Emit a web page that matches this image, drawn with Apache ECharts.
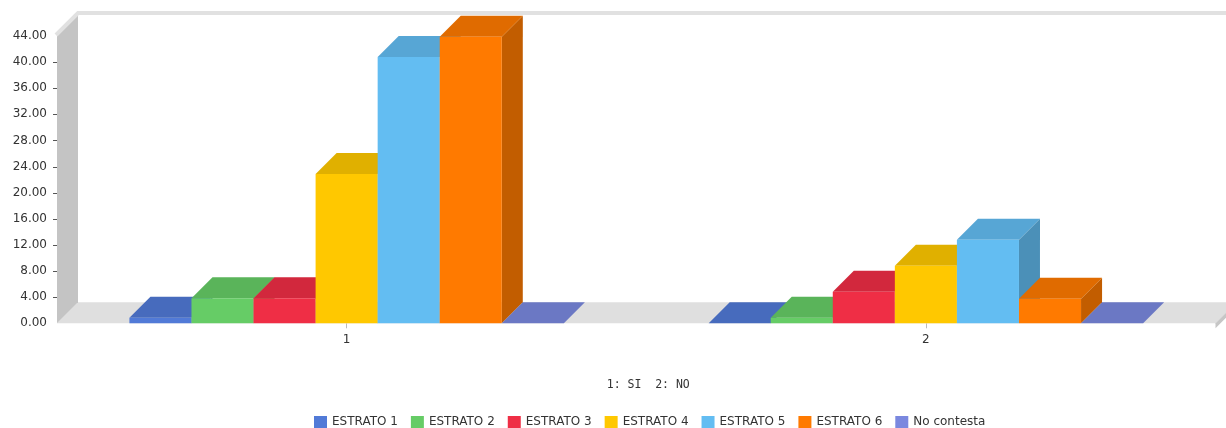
<!DOCTYPE html>
<html>
<head>
<meta charset="utf-8">
<script src="https://cdn.jsdelivr.net/npm/echarts@6.0.0/dist/echarts.min.js"></script>
<style>
html,body{margin:0;padding:0;background:#fff;}
#chart{width:1226px;height:428px;}
</style>
</head>
<body>
<div id="chart"></div>
<script>
// ---- data ----
const categories = ['1', '2'];
const seriesNames = ['ESTRATO 1', 'ESTRATO 2', 'ESTRATO 3', 'ESTRATO 4', 'ESTRATO 5', 'ESTRATO 6', 'No contesta'];
const estrato1 = [0.86, 0];
const estrato2 = [3.83, 0.86];
const estrato3 = [3.83, 4.84];
const estrato4 = [22.86, 8.82];
const estrato5 = [40.8, 12.8];
const estrato6 = [43.9, 3.77];
const noContesta = [0, 0];
const yTickValues = [0, 4, 8, 12, 16, 20, 24, 28, 32, 36, 40, 44];
const xAxisTitle = '1: SI  2: NO';

// ---- styling ----
const values = [estrato1, estrato2, estrato3, estrato4, estrato5, estrato6, noContesta];
const colors = ['#517ad7', '#66cc66', '#ef2e45', '#ffc800', '#63bdf2', '#ff7a00', '#7a88df'];
const DX = 21, DY = 21;
const GROUP_RATIO = 0.75;
const NS = seriesNames.length;
const FONT = 'DejaVu Sans, Verdana, sans-serif';

function shade(hex, f) {
  const n = parseInt(hex.slice(1), 16);
  const r = Math.round(((n >> 16) & 255) * f);
  const g = Math.round(((n >> 8) & 255) * f);
  const b = Math.round((n & 255) * f);
  return 'rgb(' + r + ',' + g + ',' + b + ')';
}

function barRenderer(si) {
  return function (params, api) {
    const ci = api.value(0), v = api.value(1);
    const base = api.coord([ci, 0]);
    const top = api.coord([ci, v]);
    const band = api.size([1, 0])[0];
    const gw = band * GROUP_RATIO;
    const bw = gw / NS;
    const x0 = base[0] - gw / 2 + si * bw, x1 = x0 + bw;
    const yb = base[1], yt = top[1];
    const c = colors[si];
    const ch = [];
    if (yb - yt > 0.01) {
      ch.push({type: 'polygon', shape: {points: [[x1, yt], [x1 + DX, yt - DY], [x1 + DX, yb - DY], [x1, yb]]},
        style: {fill: shade(c, 0.76)}});
    }
    ch.push({type: 'polygon', shape: {points: [[x0, yt], [x0 + DX, yt - DY], [x1 + DX, yt - DY], [x1, yt]]},
      style: {fill: shade(c, 0.88)}});
    if (yb - yt > 0.01) {
      ch.push({type: 'rect', shape: {x: x0, y: yt, width: bw, height: yb - yt}, style: {fill: c}});
    }
    return {type: 'group', children: ch};
  };
}

function bgRenderer(params, api) {
  const cs = params.coordSys;
  const L = cs.x, T = cs.y, R = cs.x + cs.width, B = cs.y + cs.height;
  const wallTop = T - 2;
  const ch = [];
  // floor
  ch.push({type: 'polygon', shape: {points: [[L, B], [L + DX, B - DY], [R + DX, B - DY], [R, B]]},
    style: {fill: '#dfdfdf'}});
  // floor right edge
  ch.push({type: 'polygon', shape: {points: [[R, B], [R + DX, B - DY], [R + DX, B - DY + 5], [R, B + 5]]},
    style: {fill: '#c6c6c6'}});
  // left wall
  ch.push({type: 'polygon', shape: {points: [[L, wallTop], [L + DX, wallTop - DY], [L + DX, B - DY], [L, B]]},
    style: {fill: '#c4c4c4'}});
  // wall top edges
  ch.push({type: 'polyline', shape: {points: [[L - 1, wallTop + 1], [L + DX, wallTop - DY], [R + DX + 20, wallTop - DY]]},
    style: {stroke: '#e1e1e1', lineWidth: 4, fill: null, lineJoin: 'miter'}});
  // y ticks
  yTickValues.forEach(function (tv) {
    if (tv === yTickValues[0] || tv === yTickValues[yTickValues.length - 1]) return;
    const y = Math.round(api.coord([0, tv])[1]) + 0.5;
    ch.push({type: 'line', shape: {x1: L - 4, y1: y, x2: L, y2: y}, style: {stroke: '#555', lineWidth: 1}});
  });
  return {type: 'group', children: ch};
}

const series = [{
  type: 'custom', name: '__bg', z: 1, silent: true, clip: false,
  renderItem: bgRenderer, data: [[0, 0]]
}];
seriesNames.forEach(function (nm, i) {
  series.push({
    type: 'custom', name: nm, z: 2, clip: false,
    itemStyle: {color: colors[i]},
    renderItem: barRenderer(i),
    data: values[i].map(function (v, ci) { return [ci, v]; })
  });
});

const chart = echarts.init(document.getElementById('chart'), null, {renderer: 'canvas'});
chart.setOption({
  animation: false,
  backgroundColor: '#fff',
  grid: {left: 57, right: 10.5, top: 36, bottom: 104.7},
  legend: {
    data: seriesNames, top: 411, left: 309, icon: 'rect',
    itemWidth: 13, itemHeight: 12, itemGap: 13, itemTextGap: 6,
    textStyle: {fontSize: 12, fontFamily: FONT, color: '#333'}
  },
  xAxis: {
    type: 'category', data: categories,
    axisLine: {show: false},
    axisTick: {show: true, alignWithLabel: true, length: 5, lineStyle: {color: '#bbb'}},
    axisLabel: {margin: 11, fontSize: 12, fontFamily: FONT, color: '#333'},
    name: xAxisTitle, nameLocation: 'middle', nameGap: 56,
    nameTextStyle: {fontSize: 11.5, fontFamily: 'DejaVu Sans Mono, monospace', color: '#333', padding: [0, 0, 0, 24]}
  },
  yAxis: {
    type: 'value', min: yTickValues[0], max: yTickValues[yTickValues.length - 1], interval: 4,
    axisLine: {show: false}, axisTick: {show: false}, splitLine: {show: false},
    axisLabel: {margin: 10, fontSize: 12, fontFamily: FONT, color: '#333',
      formatter: function (v) { return v.toFixed(2); }}
  },
  series: series
});
</script>
</body>
</html>
